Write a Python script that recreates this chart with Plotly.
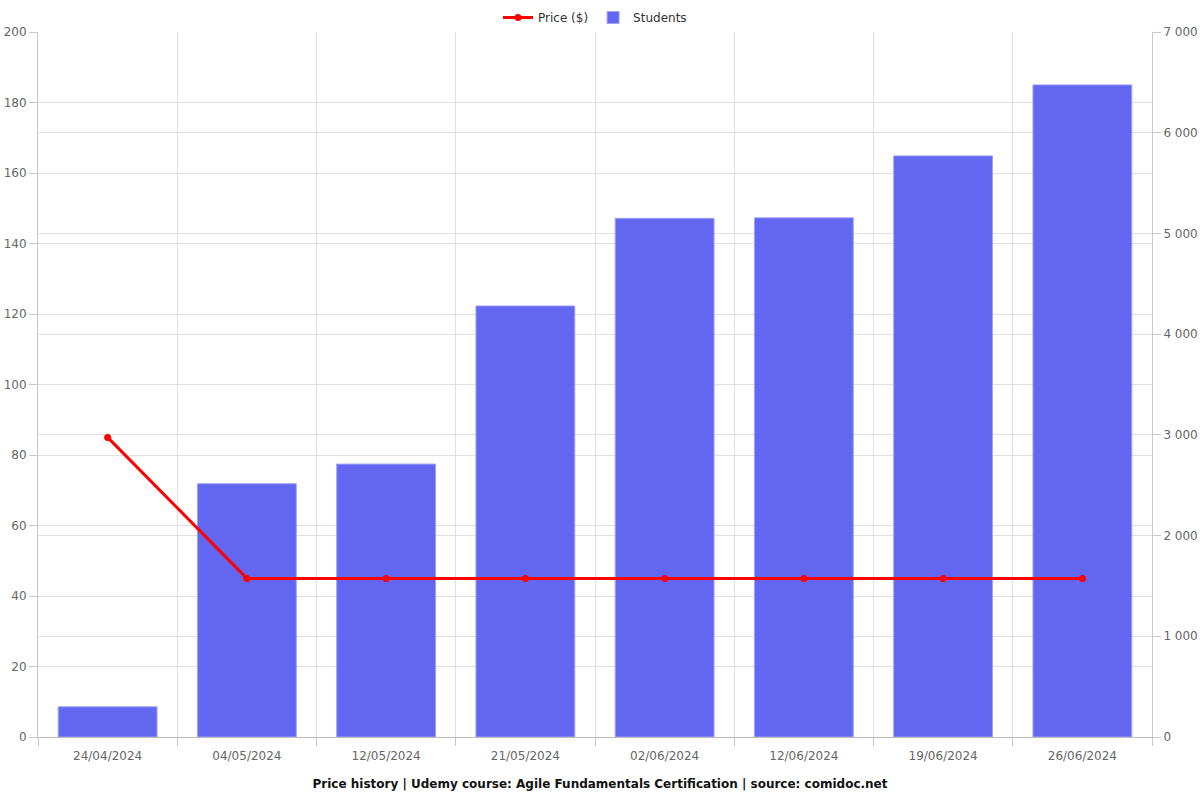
import plotly.graph_objects as go

dates = ["24/04/2024", "04/05/2024", "12/05/2024", "21/05/2024",
         "02/06/2024", "12/06/2024", "19/06/2024", "26/06/2024"]
students = [300, 2515, 2710, 4280, 5150, 5155, 5770, 6475]
price = [84.99, 44.99, 44.99, 44.99, 44.99, 44.99, 44.99, 44.99]

FONT = "DejaVu Sans"
GRID = "#e0e0e0"
AXIS = "#c8c8c8"
TICKC = "#666666"

fig = go.Figure()
fig.add_trace(go.Bar(
    x=dates, y=students, name="Students", yaxis="y",
    marker=dict(color="#6366f1", line=dict(color="rgba(160,163,248,1)", width=1)),
))
fig.add_trace(go.Scatter(
    x=dates, y=price, name="Price ($)", yaxis="y2", mode="lines+markers",
    line=dict(color="#ff0000", width=3),
    marker=dict(color="#ff0000", size=7),
))

fig.update_layout(
    width=1200, height=800,
    margin=dict(l=38, r=48, t=32, b=63, autoexpand=False),
    paper_bgcolor="white", plot_bgcolor="white",
    font=dict(family=FONT, size=12, color=TICKC),
    separators=". ",
    bargap=0.29,
    showlegend=True,
    legend=dict(orientation="h", x=0.5, xanchor="center", y=1.0, yanchor="bottom",
                font=dict(size=12, color="#333333"), traceorder="reversed"),
    title=dict(text="<b>Price history | Udemy course: Agile Fundamentals Certification | source: comidoc.net</b>",
               x=0.5, xanchor="center", y=0.02, yanchor="middle",
               font=dict(family=FONT, size=12, color="#111111")),
    xaxis=dict(type="category", tickson="boundaries", showgrid=True, gridcolor=GRID,
               ticks="outside", ticklen=8, tickcolor=AXIS, showline=True, linecolor="#bbbbbb",
               ticklabelstandoff=8, automargin=False,
               tickfont=dict(size=12, color=TICKC)),
    yaxis=dict(side="right", range=[0, 7000], dtick=1000, tickformat=",d",
               showgrid=True, gridcolor=GRID, ticks="outside", ticklen=8, tickcolor=AXIS,
               showline=True, linecolor=AXIS, zeroline=False, automargin=False,
               tickfont=dict(size=12, color=TICKC)),
    yaxis2=dict(side="left", overlaying="y", range=[0, 200], dtick=20,
                showgrid=True, gridcolor=GRID, ticks="outside", ticklen=8, tickcolor=AXIS,
                showline=True, linecolor=AXIS, zeroline=False, automargin=False,
                tickfont=dict(size=12, color=TICKC)),
)

fig.write_html("out.html")
